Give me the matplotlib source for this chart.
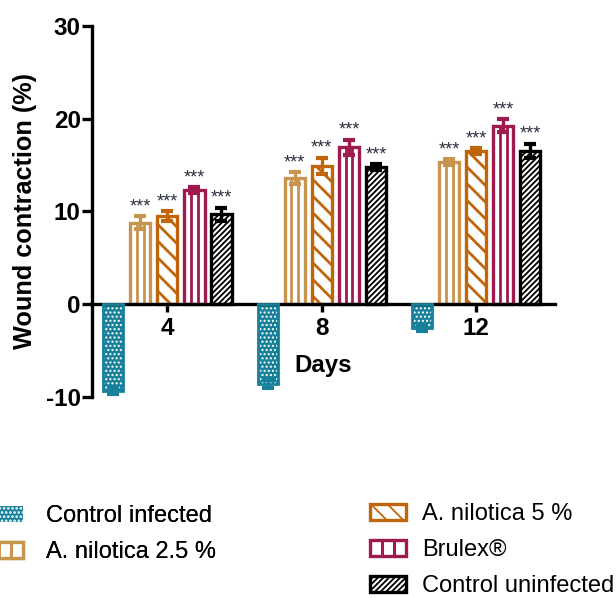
import numpy as np
import matplotlib.pyplot as plt
from matplotlib.patches import Patch, Rectangle
from matplotlib.lines import Line2D

plt.rcParams['font.family'] = ['Liberation Sans', 'DejaVu Sans']

days = ['4', '8', '12']
labels = ['Control infected', 'A. nilotica 2.5 %', 'A. nilotica 5 %', 'Brulex®', 'Control uninfected']

ctrl_inf = [-9.3, -8.6, -2.6]
ctrl_inf_sd = [0.4, 0.4, 0.3]
nil25 = [8.8, 13.6, 15.3]
nil25_sd = [0.7, 0.6, 0.3]
nil5 = [9.5, 14.9, 16.5]
nil5_sd = [0.5, 0.9, 0.3]
brulex = [12.3, 16.9, 19.2]
brulex_sd = [0.3, 0.8, 0.7]
ctrl_un = [9.7, 14.8, 16.5]
ctrl_un_sd = [0.7, 0.3, 0.8]

means = [ctrl_inf, nil25, nil5, brulex, ctrl_un]
sds = [ctrl_inf_sd, nil25_sd, nil5_sd, brulex_sd, ctrl_un_sd]
colors = ['#17809a', '#c8954f', '#c0650a', '#9e1a4f', '#000000']
hatches = ['....', '', '\\\\', '', '//////']
hatch_lw = [1.0, 1.0, 2.0, 1.0, 1.3]
stripes = [False, True, False, True, False]
stars = [False, True, True, True, True]


class StripeHandler:
    """legend box with two inner vertical stripes"""
    def __init__(self, color):
        self.color = color

    def legend_artist(self, legend, orig_handle, fontsize, handlebox):
        x0, y0 = -handlebox.xdescent, -handlebox.ydescent
        w, h = handlebox.width, handlebox.height
        tr = handlebox.get_transform()
        rect = Rectangle((x0, y0), w, h, facecolor='white', edgecolor=self.color,
                         linewidth=2.4, transform=tr)
        handlebox.add_artist(rect)
        for f in (1 / 3, 2 / 3):
            handlebox.add_artist(Line2D([x0 + f * w] * 2, [y0, y0 + h], color=self.color,
                                        linewidth=2.2, transform=tr))
        return rect


fig = plt.figure(figsize=(6.16, 5.98), dpi=100)
ax = fig.add_axes([0.149, 0.336, 0.752, 0.621])

x = np.arange(len(days))
step = 0.175
width = 0.13
handles = []
hmap = {}
for i in range(5):
    pos = x + (i - 2) * step
    plt.rcParams['hatch.linewidth'] = hatch_lw[i]
    if i == 0:
        ax.bar(pos, means[i], width, facecolor=colors[i], edgecolor='white',
               hatch=hatches[i], linewidth=0, zorder=2)
        ax.bar(pos, means[i], width, fill=False, edgecolor=colors[i], linewidth=2, zorder=3)
        h = Patch(facecolor=colors[i], edgecolor='white', hatch=hatches[i], linewidth=0)
    else:
        ax.bar(pos, means[i], width, facecolor='white', edgecolor=colors[i],
               hatch=hatches[i], linewidth=2.4, zorder=2)
        h = Patch(facecolor='white', edgecolor=colors[i], hatch=hatches[i], linewidth=2.4)
    if stripes[i]:
        # vertical stripe pattern: two inner lines per bar
        for k in (-1, 1):
            ax.vlines(pos + k * width / 6, 0, means[i], colors=colors[i],
                      linewidth=2, zorder=2.5)
        hmap[h] = StripeHandler(colors[i])
    handles.append(h)
    ax.errorbar(pos, means[i], yerr=sds[i], fmt='none', ecolor=colors[i],
                elinewidth=2.4, capsize=4.5, capthick=3, zorder=4)
    if stars[i]:
        for p, m, s in zip(pos, means[i], sds[i]):
            ax.text(p, m + s + 0.1, '***', ha='center', va='bottom',
                    fontsize=13, color='#2b3040')

ax.set_xlim(-0.49, 2.51)
ax.set_ylim(-10, 30)
ax.set_yticks([-10, 0, 10, 20, 30])
ax.set_yticklabels(['-10', '0', '10', '20', '30'])
ax.set_xticks(x)
ax.set_xticklabels(days)
for s in ['top', 'right']:
    ax.spines[s].set_visible(False)
ax.spines['bottom'].set_position(('data', 0))
ax.spines['left'].set_linewidth(2.4)
ax.spines['bottom'].set_linewidth(2.4)
ax.tick_params(axis='y', width=2.4, length=7, labelsize=17.5, pad=1)
ax.tick_params(axis='x', width=2.4, length=6, labelsize=17.5, pad=3)
for t in ax.get_xticklabels() + ax.get_yticklabels():
    t.set_fontweight('bold')
ax.set_ylabel('Wound contraction (%)', fontsize=18.2, fontweight='bold', labelpad=6)
ax.set_xlabel('Days', fontsize=17.3, fontweight='bold', labelpad=10)

leg_kw = dict(loc='upper left', frameon=False, fontsize=17, borderpad=0, borderaxespad=0,
              handlelength=1.5, handleheight=0.67, handletextpad=0.95, labelspacing=0.6,
              handler_map=hmap)
leg1 = fig.legend(handles[:2], labels[:2], bbox_to_anchor=(-0.02, 0.155), **leg_kw)
fig.add_artist(leg1)
fig.legend(handles[2:], labels[2:], bbox_to_anchor=(0.601, 0.159),
           **dict(leg_kw, handletextpad=0.7))

fig.savefig('out.png', dpi=100)
